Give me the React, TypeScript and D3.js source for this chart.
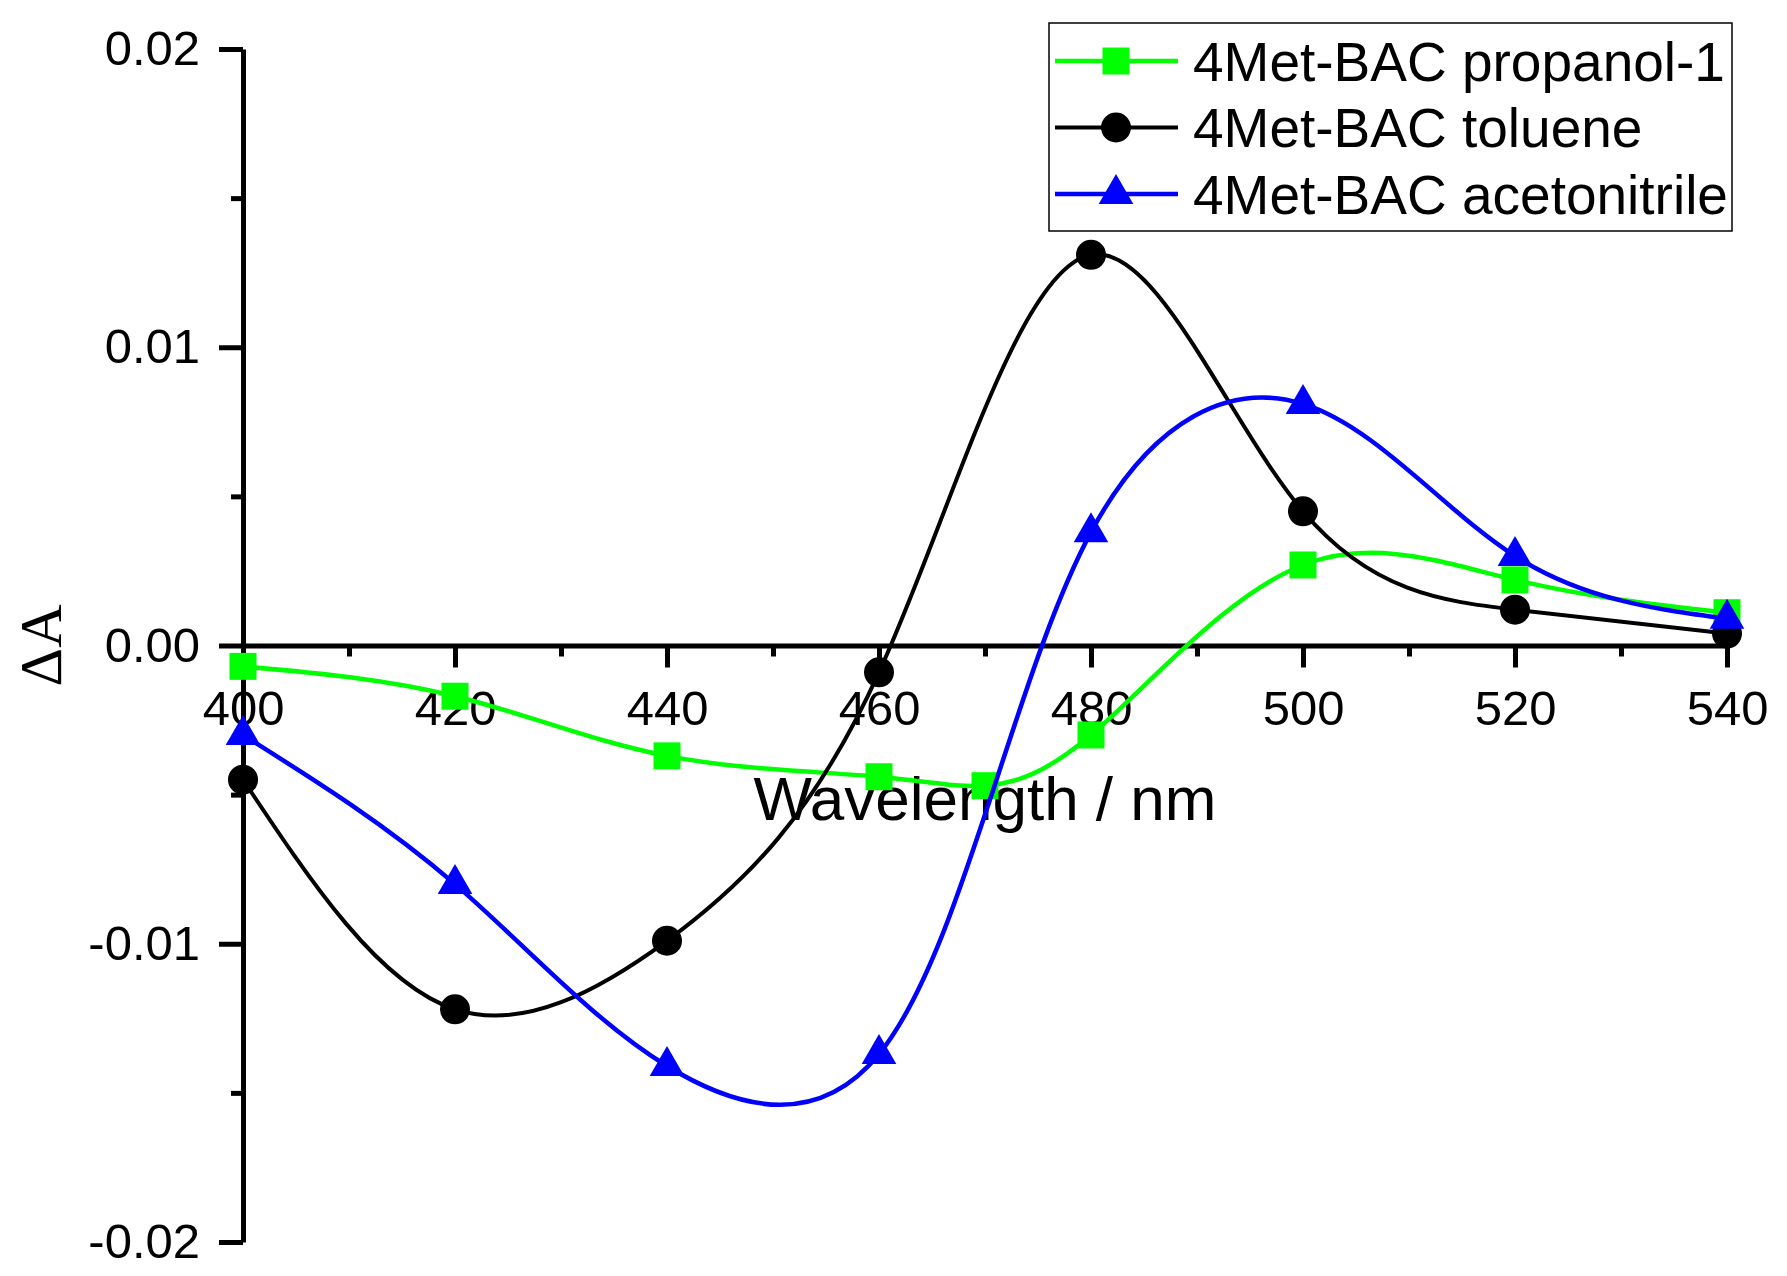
import React, { useEffect, useRef } from 'react';
import * as d3 from 'd3';

// wavelengths (nm)
const wavelengths = [400, 420, 440, 460, 480, 500, 520, 540];
const propanolWavelengths = [400, 420, 440, 460, 470, 480, 500, 520, 540];

// delta absorbance values
const propanolValues = [-0.0007, -0.0017, -0.0037, -0.0044, -0.0047, -0.003, 0.0027, 0.0022, 0.0011];
const tolueneValues = [-0.0045, -0.0122, -0.0099, -0.0009, 0.0131, 0.0045, 0.0012, 0.0004];
const acetonitrileValues = [-0.003, -0.008, -0.0141, -0.0137, 0.0038, 0.0081, 0.003, 0.0009];

const xTicks = [400, 420, 440, 460, 480, 500, 520, 540];
const xMinorTicks = [410, 430, 450, 470, 490, 510, 530];
const yTicks = [-0.02, -0.01, 0, 0.01, 0.02];
const yMinorTicks = [-0.015, -0.005, 0.005, 0.015];

const seriesNames = ['4Met-BAC propanol-1', '4Met-BAC toluene', '4Met-BAC acetonitrile'];

const FONT = "'Liberation Sans', Arial, sans-serif";

// natural cubic spline second derivatives for knots t
const secondDerivs = (t: number[], v: number[]) => {
  const n = v.length;
  const m = new Array(n).fill(0);
  if (n < 3) return m;
  const a: number[] = [], b: number[] = [], c: number[] = [], d: number[] = [];
  for (let i = 1; i < n - 1; i++) {
    const h0 = t[i] - t[i - 1];
    const h1 = t[i + 1] - t[i];
    a.push(h0);
    b.push(2 * (h0 + h1));
    c.push(h1);
    d.push(6 * ((v[i + 1] - v[i]) / h1 - (v[i] - v[i - 1]) / h0));
  }
  const k = b.length;
  for (let i = 1; i < k; i++) {
    const w = a[i] / b[i - 1];
    b[i] -= w * c[i - 1];
    d[i] -= w * d[i - 1];
  }
  const sol = new Array(k).fill(0);
  sol[k - 1] = d[k - 1] / b[k - 1];
  for (let i = k - 2; i >= 0; i--) sol[i] = (d[i] - c[i] * sol[i + 1]) / b[i];
  for (let i = 0; i < k; i++) m[i + 1] = sol[i];
  return m;
};

// parametric natural spline used as a d3 curve
class ParamSpline {
  _context: any;
  _x: number[] = [];
  _y: number[] = [];
  _alpha = 0.3;
  constructor(context: any) {
    this._context = context;
  }
  areaStart() {}
  areaEnd() {}
  lineStart() {
    this._x = [];
    this._y = [];
  }
  point(x: number, y: number) {
    this._x.push(+x);
    this._y.push(+y);
  }
  lineEnd() {
    const xs = this._x;
    const ys = this._y;
    const n = xs.length;
    const ctx = this._context;
    if (!n) return;
    ctx.moveTo(xs[0], ys[0]);
    if (n === 2) {
      ctx.lineTo(xs[1], ys[1]);
      return;
    }
    const t = [0];
    for (let i = 1; i < n; i++)
      t.push(t[i - 1] + Math.pow(Math.hypot(xs[i] - xs[i - 1], ys[i] - ys[i - 1]), this._alpha));
    const mx = secondDerivs(t, xs);
    const my = secondDerivs(t, ys);
    for (let i = 0; i < n - 1; i++) {
      const h = t[i + 1] - t[i];
      const dx0 = (xs[i + 1] - xs[i]) / h - (h * (2 * mx[i] + mx[i + 1])) / 6;
      const dx1 = (xs[i + 1] - xs[i]) / h + (h * (mx[i] + 2 * mx[i + 1])) / 6;
      const dy0 = (ys[i + 1] - ys[i]) / h - (h * (2 * my[i] + my[i + 1])) / 6;
      const dy1 = (ys[i + 1] - ys[i]) / h + (h * (my[i] + 2 * my[i + 1])) / 6;
      ctx.bezierCurveTo(
        xs[i] + (dx0 * h) / 3,
        ys[i] + (dy0 * h) / 3,
        xs[i + 1] - (dx1 * h) / 3,
        ys[i + 1] - (dy1 * h) / 3,
        xs[i + 1],
        ys[i + 1]
      );
    }
  }
}

const App = () => {
  const svgRef = useRef<SVGSVGElement>(null);
  const W = 1787;
  const H = 1276;

  useEffect(() => {
    const svg = d3.select(svgRef.current);
    svg.selectAll('*').remove();

    const x = d3.scaleLinear().domain([400, 540]).range([243, 1727]);
    const y = d3.scaleLinear().domain([-0.02, 0.02]).range([1242, 49]);

    //y axis, major + minor
    const yAxis = svg
      .append('g')
      .attr('transform', `translate(${x(400)},0)`)
      .call(
        d3
          .axisLeft(y)
          .tickValues(yTicks)
          .tickSize(24)
          .tickSizeOuter(0)
          .tickPadding(19)
          .tickFormat((d) => d3.format('.2f')(d as number).replace('−', '-'))
      );
    svg
      .append('g')
      .attr('transform', `translate(${x(400)},0)`)
      .call(d3.axisLeft(y).tickValues(yMinorTicks).tickSize(12).tickFormat(() => ''))
      .call((g) => g.select('.domain').remove());

    //x axis at zero
    const xAxis = svg
      .append('g')
      .attr('transform', `translate(0,${y(0)})`)
      .call(
        d3
          .axisBottom(x)
          .tickValues(xTicks)
          .tickSize(22)
          .tickSizeOuter(0)
          .tickPadding(23)
          .tickFormat((d) => String(d))
      );
    svg
      .append('g')
      .attr('transform', `translate(0,${y(0)})`)
      .call(d3.axisBottom(x).tickValues(xMinorTicks).tickSize(11).tickFormat(() => ''))
      .call((g) => g.select('.domain').remove());

    svg.selectAll('.domain').attr('stroke', '#000').attr('stroke-width', 5);
    svg.selectAll('.tick line').attr('stroke', '#000').attr('stroke-width', 5);
    yAxis.selectAll('text').style('font-family', FONT).style('font-size', '49px').attr('fill', '#000');
    xAxis.selectAll('text').style('font-family', FONT).style('font-size', '49px').attr('fill', '#000');

    //axis titles
    svg
      .append('text')
      .attr('x', (x(400) + x(540)) / 2)
      .attr('y', 820)
      .attr('text-anchor', 'middle')
      .style('font-family', FONT)
      .style('font-size', '62px')
      .text('Wavelength / nm');

    svg
      .append('text')
      .attr('transform', `translate(61,${y(0)}) rotate(-90)`)
      .attr('text-anchor', 'middle')
      .style('font-family', "'Liberation Serif', 'Times New Roman', serif")
      .style('font-size', '60px')
      .text('ΔA');

    const series = [
      { name: seriesNames[0], xs: propanolWavelengths, ys: propanolValues, color: '#00ff00', width: 4.5, shape: 'square' },
      { name: seriesNames[1], xs: wavelengths, ys: tolueneValues, color: '#000000', width: 4, shape: 'circle' },
      { name: seriesNames[2], xs: wavelengths, ys: acetonitrileValues, color: '#0000ff', width: 4.5, shape: 'triangle' },
    ];

    const symbolFor = (shape: string) => {
      if (shape === 'square') return d3.symbol().type(d3.symbolSquare).size(27 * 27)();
      if (shape === 'circle') return d3.symbol().type(d3.symbolCircle).size(Math.PI * 15 * 15)();
      return d3.symbol().type(d3.symbolTriangle).size(520)();
    };

    const line = d3
      .line<[number, number]>()
      .x((d) => x(d[0]))
      .y((d) => y(d[1]))
      .curve(((ctx: any) => new ParamSpline(ctx)) as any);

    series.forEach((s) => {
      const pts: [number, number][] = s.xs.map((v, i) => [v, s.ys[i]]);
      svg
        .append('path')
        .datum(pts)
        .attr('d', line)
        .attr('fill', 'none')
        .attr('stroke', s.color)
        .attr('stroke-width', s.width);
      svg
        .append('g')
        .selectAll('path')
        .data(pts)
        .join('path')
        .attr('d', symbolFor(s.shape))
        .attr('transform', (d) => `translate(${x(d[0])},${y(d[1])})`)
        .attr('fill', s.color);
    });

    //legend
    const legend = svg.append('g');
    legend
      .append('rect')
      .attr('x', 1049)
      .attr('y', 23)
      .attr('width', 683)
      .attr('height', 208)
      .attr('fill', '#fff')
      .attr('stroke', '#000')
      .attr('stroke-width', 1.5);

    series.forEach((s, i) => {
      const ry = 61 + i * 66.5;
      legend
        .append('line')
        .attr('x1', 1055)
        .attr('x2', 1178)
        .attr('y1', ry)
        .attr('y2', ry)
        .attr('stroke', s.color)
        .attr('stroke-width', s.width);
      legend
        .append('path')
        .attr('d', symbolFor(s.shape))
        .attr('transform', `translate(1116,${ry})`)
        .attr('fill', s.color);
      legend
        .append('text')
        .attr('x', 1193)
        .attr('y', ry + 19.5)
        .style('font-family', FONT)
        .style('font-size', '55px')
        .text(s.name);
    });
  });

  return (
    <div>
      <svg
        ref={svgRef}
        width={W}
        height={H}
        style={{ position: 'absolute', left: 0, top: 0, background: '#fff' }}
      ></svg>
    </div>
  );
};

export default App;
